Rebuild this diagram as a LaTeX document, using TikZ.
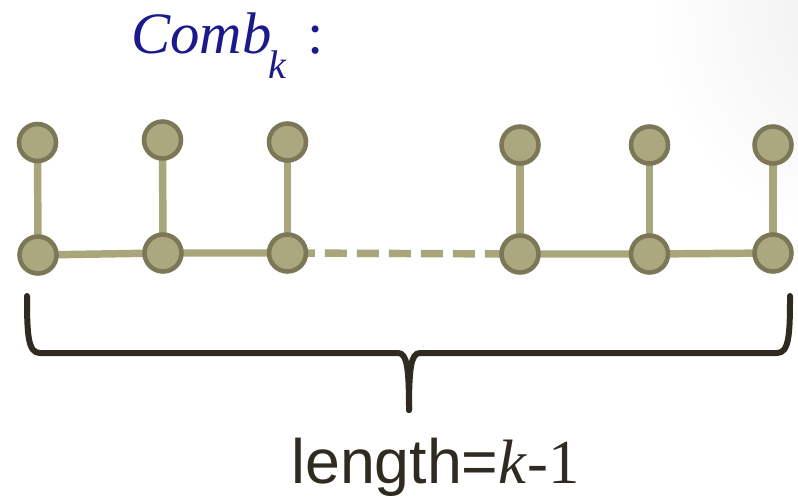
\documentclass[tikz,border=0pt]{standalone}
\usepackage{fontspec}
\setmainfont{Liberation Serif}
\newfontfamily\arialfont{Liberation Sans}
\usetikzlibrary{backgrounds,fadings}
\definecolor{edgecol}{HTML}{A9A67C}
\definecolor{vfill}{HTML}{ABA77E}
\definecolor{vdraw}{HTML}{7B7757}
\definecolor{bracecol}{HTML}{2F2B20}
\definecolor{titlecol}{HTML}{1A1A8C}
\tikzfading[name=softout, inner color=transparent!0, outer color=transparent!100]
\tikzset{
  vtx/.style={circle, fill=vfill, draw=vdraw, line width=3.4pt, minimum size=27.75pt, inner sep=0pt},
  edgeline/.style={draw=edgecol, line width=5.6pt},
  dashedge/.style={edgeline, dash pattern=on 16.5pt off 7.5pt, dash phase=19.9pt},
  bracestyle/.style={draw=bracecol, line width=4.5pt, line join=round, line cap=round},
  lbl/.style={inner sep=0pt, anchor=base west}
}
\begin{document}
\begin{tikzpicture}[x=0.75pt,y=-0.75pt]
\useasboundingbox (0,0) rectangle (798,496);

% title
\node[lbl, text=titlecol, font=\fontsize{44}{44}\selectfont\itshape] (title) at (131,53) {Comb};
\node[lbl, text=titlecol, font=\fontsize{30}{30}\selectfont\itshape] (sub) at (268,78) {k};
\node[lbl, text=titlecol, font=\fontsize{44}{44}\selectfont] (colon) at (307,53) {:};

% vertices
\node[vtx] (t1) at (37.5,142.5) {};
\node[vtx] (t2) at (162.5,140) {};
\node[vtx] (t3) at (287.5,142) {};
\node[vtx] (t4) at (520,145) {};
\node[vtx] (t5) at (649.5,145) {};
\node[vtx] (t6) at (773,145) {};
\node[vtx] (b1) at (38,255) {};
\node[vtx] (b2) at (163,253) {};
\node[vtx] (b3) at (287.5,253) {};
\node[vtx] (b4) at (520,254) {};
\node[vtx] (b5) at (649.5,254) {};
\node[vtx] (b6) at (773,253) {};

\begin{pgfonlayer}{background}
% faint shadow top-right
\begin{scope}
\clip (0,0) rectangle (798,496);
\fill[black, opacity=0.07, path fading=softout] (880,10) circle (230);
\end{scope}
\draw[edgeline] (t1.center) -- (b1.center);
\draw[edgeline] (t2.center) -- (b2.center);
\draw[edgeline] (t3.center) -- (b3.center);
\draw[edgeline] (t4.center) -- (b4.center);
\draw[edgeline] (t5.center) -- (b5.center);
\draw[edgeline] (t6.center) -- (b6.center);
\draw[edgeline] (b1.center) -- (b2.center) -- (b3.center);
\draw[edgeline] (b4.center) -- (b5.center) -- (b6.center);
\draw[dashedge] (b3.center) -- (b4.center);
\end{pgfonlayer}

% brace
\draw[bracestyle] (27,296) .. controls (27,335) and (28,353) .. (40,353)
  -- (398,353) .. controls (407,353) and (409,368) .. (409,410);
\draw[bracestyle] (790,296) .. controls (790,335) and (789,353) .. (777,353)
  -- (420,353) .. controls (411,353) and (409,368) .. (409,410);

% label
\node[lbl, text=bracecol] (len) at (291,483)
  {\fontsize{47}{47}\selectfont{\arialfont length=}\textit{k}-1};
\end{tikzpicture}
\end{document}
